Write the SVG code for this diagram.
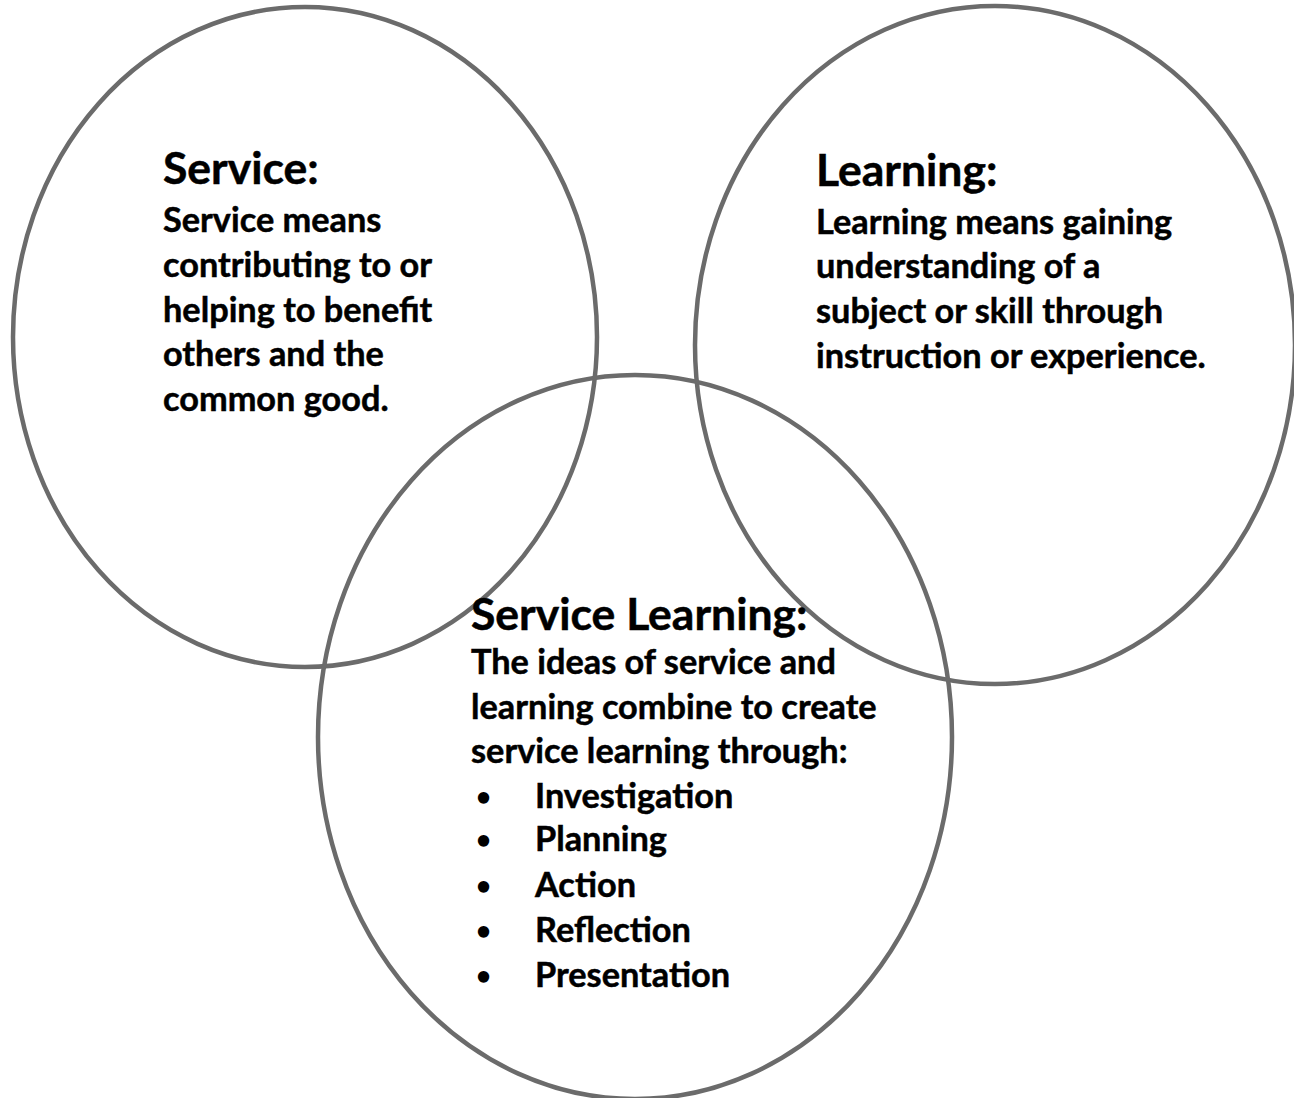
<svg xmlns="http://www.w3.org/2000/svg" width="1294" height="1098" viewBox="0 0 1294 1098">
<style>
.ring{fill:none;stroke:#6b6b6b;stroke-width:4.5}
.h{font-family:Lato,"Liberation Sans",sans-serif;font-weight:700;font-size:44.5px;fill:#000;stroke:#000;stroke-width:0.5}
.b{font-family:Lato,"Liberation Sans",sans-serif;font-weight:700;font-size:34.3px;fill:#000;stroke:#000;stroke-width:0.5}
.dot{font-family:Lato,"Liberation Sans",sans-serif;font-weight:700;font-size:26px;fill:#000}
</style>
<rect width="1294" height="1098" fill="#fff"/>
<g id="service">
<ellipse class="ring" cx="305" cy="337" rx="292" ry="330"/>
<text class="h" x="163" y="184">Service:</text>
<text class="b" x="163" y="232">Service means</text>
<text class="b" x="163" y="277">contributing to or</text>
<text class="b" x="163" y="322">helping to benefit</text>
<text class="b" x="163" y="366">others and the</text>
<text class="b" x="163" y="411">common good.</text>
</g>
<g id="learning">
<ellipse class="ring" cx="995" cy="345" rx="300" ry="339"/>
<text class="h" x="816" y="186">Learning:</text>
<text class="b" x="816" y="234">Learning means gaining</text>
<text class="b" x="816" y="278">understanding of a</text>
<text class="b" x="816" y="323">subject or skill through</text>
<text class="b" x="816" y="368">instruction or experience.</text>
</g>
<g id="service-learning">
<ellipse class="ring" cx="635" cy="737" rx="317" ry="362"/>
<text class="h" x="471" y="630">Service Learning:</text>
<text class="b" x="471" y="674">The ideas of service and</text>
<text class="b" x="471" y="719">learning combine to create</text>
<text class="b" x="471" y="763">service learning through:</text>
<text class="dot" x="476" y="806">•</text><text class="b" x="535" y="808">Investigation</text>
<text class="dot" x="476" y="849">•</text><text class="b" x="535" y="851">Planning</text>
<text class="dot" x="476" y="895">•</text><text class="b" x="535" y="897">Action</text>
<text class="dot" x="476" y="940">•</text><text class="b" x="535" y="942">Reflection</text>
<text class="dot" x="476" y="985">•</text><text class="b" x="535" y="987">Presentation</text>
</g>
</svg>
